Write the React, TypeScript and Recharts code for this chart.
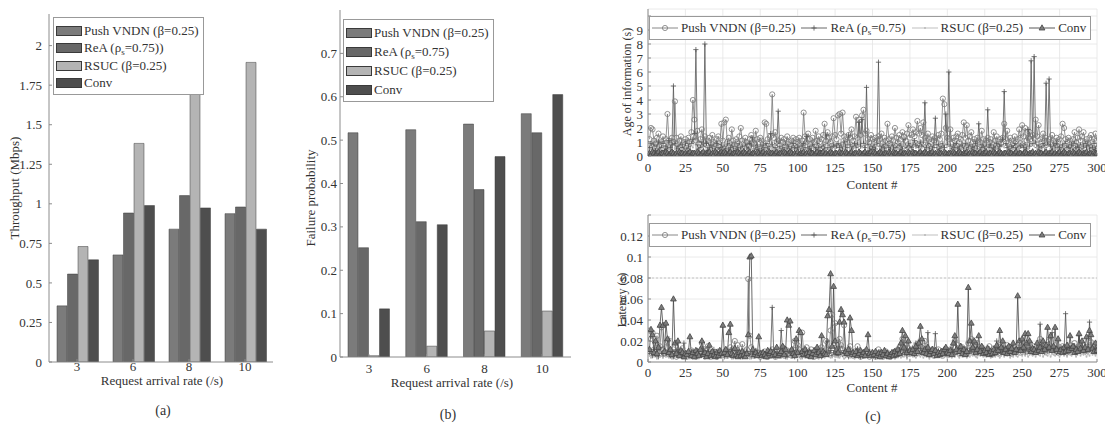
import React from 'react';
import { BarChart, Bar, LineChart, Line, XAxis, YAxis, CartesianGrid, Legend, ReferenceLine } from 'recharts';

const FONT = '"Liberation Serif", "Times New Roman", serif';

// ---------- (a) / (b) data ----------
const rates = ['3', '6', '8', '10'];
const throughputPush = [0.355, 0.677, 0.84, 0.938];
const throughputReA = [0.556, 0.942, 1.052, 0.98];
const throughputRSUC = [0.73, 1.382, 1.7, 1.894];
const throughputConv = [0.646, 0.989, 0.974, 0.84];
const failurePush = [0.517, 0.524, 0.537, 0.561];
const failureReA = [0.252, 0.312, 0.386, 0.517];
const failureRSUC = [0.003, 0.025, 0.06, 0.106];
const failureConv = [0.111, 0.305, 0.462, 0.605];

const throughputTicks = [0, 0.25, 0.5, 0.75, 1, 1.25, 1.5, 1.75, 2];
const failureTicks = [0, 0.1, 0.2, 0.3, 0.4, 0.5, 0.6, 0.7];
const contentTicks = [0, 25, 50, 75, 100, 125, 150, 175, 200, 225, 250, 275, 300];
const aoiTicks = [0, 1, 2, 3, 4, 5, 6, 7, 8, 9, 10];
const latencyTicks = [0, 0.02, 0.04, 0.06, 0.08, 0.1, 0.12, 0.14];

const seriesKeys = ['push', 'rea', 'rsuc', 'conv'];
const nameA = ['Push VNDN (β=0.25)', 'ReA (ρs=0.75))', 'RSUC (β=0.25)', 'Conv'];
const nameB = ['Push VNDN (β=0.25)', 'ReA (ρs=0.75)', 'RSUC (β=0.25)', 'Conv'];
const nameC = ['Push VNDN (β=0.25)', 'ReA (ρs=0.75)', 'RSUC (β=0.25)', 'Conv'];

// ---------- (c) data: age of information (s), contents 1..300 ----------
const aoiPush = [
  1.2,2.0,1.9,1.1,0.9,1.3,1.6,0.8,1.0,1.4,0.9,1.2,3.0,1.1,0.8,1.3,1.0,3.9,1.3,0.9,1.1,1.4,0.8,1.0,1.2,
  0.9,1.3,1.0,1.7,4.0,2.6,1.1,1.8,0.9,1.2,1.9,1.0,1.4,0.8,1.1,1.3,0.9,1.5,1.0,0.8,1.2,1.4,1.0,2.3,1.1,
  2.4,2.6,1.0,1.3,0.9,1.9,1.1,0.8,1.2,1.0,1.4,2.0,1.1,0.9,1.3,1.0,0.8,1.2,1.5,1.0,0.9,1.8,1.2,1.0,1.3,
  1.1,0.9,2.4,2.3,1.2,1.0,1.4,4.4,1.3,1.7,1.0,1.1,0.8,1.3,1.0,1.2,0.9,1.4,1.0,0.8,1.1,1.3,0.9,1.2,1.0,
  1.3,0.9,1.1,3.1,1.4,1.0,1.6,1.2,0.9,1.3,1.0,1.8,1.1,1.4,1.0,1.2,1.5,2.3,1.1,1.7,1.3,1.0,1.4,2.7,1.5,
  1.2,2.9,3.0,1.6,3.1,1.4,1.2,1.0,1.5,1.3,1.9,1.1,1.4,2.8,1.3,2.6,1.5,2.9,3.3,1.6,1.8,1.2,1.0,1.5,1.2,
  1.0,1.3,1.1,1.4,1.2,1.6,1.0,1.3,1.1,2.3,1.2,0.9,1.4,1.1,2.0,1.3,1.0,1.5,1.2,1.7,1.4,1.1,1.6,2.2,1.3,
  1.5,1.9,1.4,1.7,2.5,1.6,2.0,1.5,2.4,1.3,1.1,1.6,1.2,1.0,1.4,1.1,1.3,1.0,1.5,1.2,1.6,4.1,3.7,2.0,1.3,
  1.2,1.9,1.0,1.3,1.1,1.4,1.6,1.0,1.2,1.5,2.4,1.3,2.2,1.1,1.4,1.7,1.0,1.2,0.9,1.3,1.1,1.0,1.8,1.2,0.9,
  1.1,1.3,1.0,1.2,0.9,1.7,1.1,1.4,1.0,1.2,0.9,1.3,2.3,1.2,1.8,1.0,1.3,1.1,0.9,1.4,1.0,1.2,1.9,1.3,2.2,
  1.4,2.0,1.1,1.3,1.7,1.2,1.5,1.3,2.6,1.4,2.2,1.2,1.0,1.6,1.1,1.3,0.9,1.2,1.0,1.5,1.1,0.9,1.3,1.0,1.2,
  1.4,2.3,2.0,1.2,1.0,1.3,1.1,0.9,1.2,1.7,1.0,1.3,1.9,1.1,1.4,1.7,1.0,1.2,0.9,1.3,1.5,1.0,1.2,1.6,1.1,
];
const aoiReA = [
  0.6,0.9,0.5,0.8,0.4,0.7,1.0,0.5,0.6,0.9,0.4,0.7,0.5,1.1,0.6,0.8,5.0,0.9,0.5,0.7,0.4,0.8,0.6,0.5,0.9,
  0.5,0.7,0.4,0.9,1.2,1.6,7.6,0.8,0.5,0.6,1.0,0.7,8.0,0.9,0.4,0.6,0.8,0.5,0.7,0.4,0.9,0.6,0.5,0.8,0.6,
  0.7,0.5,0.9,0.4,0.6,0.8,0.5,0.7,0.4,0.6,0.9,0.5,0.7,0.4,0.8,0.6,0.5,0.9,0.7,1.3,0.5,0.6,0.8,0.4,0.7,
  0.5,0.8,0.6,0.9,0.5,0.7,1.6,0.8,0.5,0.6,0.9,3.2,0.7,0.5,0.6,0.4,0.8,0.5,0.7,0.4,0.6,0.9,0.5,0.7,0.6,
  0.8,0.5,0.7,0.9,0.6,1.4,0.5,0.7,0.4,0.8,0.6,0.5,0.9,0.6,0.4,0.7,0.8,0.5,1.5,0.6,0.9,0.5,0.7,0.8,0.6,
  0.7,0.9,0.6,0.8,0.5,1.0,0.7,0.6,1.5,0.8,0.5,0.7,0.9,0.6,0.8,2.4,0.7,2.6,0.9,0.6,4.9,0.8,0.5,0.7,0.6,
  0.8,0.5,0.9,6.7,0.7,0.6,0.8,0.5,0.7,0.9,0.6,0.5,0.8,0.6,0.7,0.5,0.9,0.6,0.8,0.5,1.2,0.7,0.6,0.9,0.7,
  0.6,0.8,1.1,0.7,0.9,0.6,1.0,0.7,0.8,3.8,0.6,0.9,0.5,0.7,0.6,0.8,2.7,0.6,0.8,0.5,0.7,0.9,0.6,3.0,0.8,
  6.0,0.7,0.5,0.8,0.6,0.9,0.5,0.7,0.6,0.8,0.5,0.9,0.7,0.6,0.8,0.5,0.7,0.6,0.9,0.5,2.3,0.7,0.6,0.8,0.5,
  0.7,3.3,0.6,0.8,0.5,0.7,0.6,0.9,0.5,0.7,0.8,1.2,4.6,0.9,0.6,0.8,0.5,0.7,0.6,0.9,0.5,0.8,0.6,0.7,0.9,
  0.6,0.8,0.5,1.9,0.7,6.8,0.9,7.1,1.0,0.6,0.8,0.5,0.7,0.9,0.6,5.2,0.8,5.5,0.7,0.5,0.8,0.6,0.9,0.5,0.7,
  0.6,0.8,0.5,0.9,0.6,0.7,0.5,0.8,0.6,0.9,0.5,0.7,0.6,0.8,0.5,0.7,0.9,0.6,0.8,0.5,0.7,0.6,0.9,0.5,0.7,
];
const aoiRSUC = [
  0.8,0.5,1.1,0.6,0.9,0.4,0.7,1.2,0.5,0.8,0.6,1.0,0.4,0.7,0.9,0.5,1.3,0.6,0.8,0.4,1.0,0.7,0.5,0.9,0.6,
  0.7,1.0,0.5,0.8,0.6,1.4,0.4,0.9,0.7,0.5,1.1,0.6,0.8,0.4,0.7,1.0,0.5,0.9,0.6,0.8,0.4,0.7,1.2,0.5,0.8,
  0.6,0.9,0.4,0.7,1.0,0.5,0.8,0.6,1.1,0.4,0.7,0.9,0.5,0.8,0.6,1.0,0.4,0.7,0.5,0.9,0.6,1.2,0.5,0.8,0.6,
  0.9,0.5,0.7,1.0,0.4,0.8,0.6,1.1,0.5,0.7,0.9,0.4,0.8,0.6,1.0,0.5,0.7,0.4,0.9,0.6,0.8,0.5,1.0,0.7,0.4,
  0.8,0.6,1.0,0.5,0.7,0.9,0.4,0.8,1.2,0.6,0.5,0.9,0.7,1.0,0.5,0.8,0.6,0.4,1.1,0.7,0.9,0.5,0.8,1.3,0.6,
  1.0,0.7,0.5,1.2,0.8,0.6,1.4,0.7,0.9,0.5,1.1,0.8,0.6,1.0,0.7,0.9,1.5,0.6,0.8,0.5,1.0,0.7,0.9,0.6,0.8,
  0.5,0.9,0.7,1.0,0.6,0.8,0.4,1.1,0.7,0.9,0.5,0.8,0.6,1.2,0.7,0.5,0.9,0.6,1.0,0.8,1.3,0.7,0.9,0.6,1.1,
  0.8,1.2,0.7,1.0,0.9,1.4,0.6,1.1,0.8,0.5,0.9,0.7,1.0,0.6,0.8,0.5,0.9,0.7,0.6,1.0,0.8,0.5,0.9,1.6,0.7,
  0.9,0.6,0.8,0.5,1.0,0.7,0.4,0.9,0.6,1.1,0.8,0.5,0.7,1.0,0.6,0.9,0.5,0.8,0.6,0.4,0.9,0.7,1.0,0.5,0.8,
  0.6,0.9,0.5,1.0,0.7,0.4,0.8,0.6,1.1,0.5,0.9,0.7,0.6,1.0,0.4,0.8,0.6,0.9,0.5,1.0,0.7,0.8,0.6,1.2,0.9,
  1.1,0.7,0.9,0.6,1.3,0.8,1.0,0.7,1.2,0.6,0.9,0.5,0.8,1.0,0.6,0.9,0.7,1.1,0.5,0.8,0.6,1.0,0.7,0.5,0.9,
  0.7,1.0,0.6,0.8,0.5,0.9,0.7,1.1,0.6,0.8,1.0,0.5,0.9,0.7,0.6,1.0,0.8,1.2,0.6,0.9,0.7,1.1,0.8,1.0,0.6,
];
const aoiConv = [
  0.2,0.1,0.3,0.2,0.1,0.2,0.3,0.1,0.2,0.2,0.1,0.3,0.2,0.1,0.2,0.3,0.2,0.1,0.2,0.1,0.3,0.2,0.2,0.1,0.2,
  0.1,0.2,0.3,0.1,0.2,0.2,0.1,0.3,0.2,0.1,0.2,0.3,0.1,0.2,0.2,0.3,0.1,0.2,0.1,0.3,0.2,0.1,0.2,0.3,0.2,
  0.3,0.2,0.1,0.2,0.3,0.1,0.2,0.2,0.1,0.3,0.2,0.1,0.2,0.3,0.2,0.1,0.2,0.3,0.1,0.2,0.2,0.1,0.3,0.2,0.1,
  0.2,0.3,0.1,0.2,0.1,0.3,0.2,0.2,0.1,0.2,0.3,0.1,0.2,0.2,0.1,0.3,0.2,0.1,0.2,0.3,0.2,0.1,0.2,0.1,0.3,
  0.1,0.2,0.2,0.3,0.1,0.2,0.1,0.3,0.2,0.2,0.1,0.2,0.3,0.1,0.2,0.2,0.3,0.1,0.2,0.1,0.2,0.3,0.2,0.1,0.2,
  0.2,0.1,0.3,0.2,0.2,0.1,0.3,0.2,0.1,0.2,0.3,0.1,0.2,0.2,0.1,0.3,0.2,0.1,0.2,0.3,0.1,0.2,0.2,0.3,0.1,
  0.3,0.2,0.1,0.2,0.3,0.2,0.1,0.2,0.2,0.1,0.3,0.2,0.1,0.3,0.2,0.2,0.1,0.2,0.3,0.1,0.2,0.2,0.1,0.3,0.2,
  0.1,0.3,0.2,0.2,0.1,0.2,0.3,0.1,0.2,0.3,0.2,0.1,0.2,0.2,0.3,0.1,0.2,0.1,0.3,0.2,0.2,0.1,0.3,0.2,0.1,
  0.2,0.2,0.1,0.3,0.2,0.1,0.2,0.3,0.2,0.1,0.2,0.2,0.3,0.1,0.2,0.1,0.3,0.2,0.2,0.1,0.2,0.3,0.1,0.2,0.2,
  0.3,0.1,0.2,0.2,0.1,0.3,0.2,0.1,0.2,0.3,0.2,0.1,0.2,0.2,0.1,0.3,0.2,0.2,0.1,0.2,0.3,0.1,0.2,0.2,0.1,
  0.2,0.3,0.2,0.1,0.2,0.2,0.3,0.1,0.2,0.1,0.3,0.2,0.2,0.1,0.2,0.3,0.1,0.2,0.2,0.3,0.1,0.2,0.1,0.2,0.3,
  0.1,0.2,0.3,0.2,0.1,0.2,0.2,0.1,0.3,0.2,0.1,0.2,0.3,0.2,0.1,0.2,0.2,0.3,0.1,0.2,0.2,0.1,0.3,0.2,0.2,
];

// ---------- (c) data: latency in milliseconds, contents 1..300 ----------
const latPushMs = [
  30,22,28,12,18,25,10,15,33,12,8,14,20,7,10,6,12,9,5,11,7,9,13,6,8,
  5,9,7,11,6,8,5,10,7,9,18,8,12,6,15,7,5,9,6,8,5,10,7,6,9,
  7,11,6,9,14,7,10,20,8,16,6,9,17,7,10,12,79,25,14,8,6,10,7,9,5,
  8,6,10,7,5,9,6,12,8,5,10,7,6,9,14,6,8,11,7,10,6,12,20,9,16,
  12,8,28,10,7,14,6,9,12,7,5,9,6,11,8,14,7,10,20,9,12,30,45,18,37,
  14,10,22,16,12,35,9,11,7,15,9,6,10,8,15,7,5,9,6,8,10,7,5,9,6,
  8,5,7,12,6,9,5,7,10,6,8,5,7,9,6,11,8,14,10,22,12,16,9,13,8,
  11,8,14,10,17,12,20,9,13,20,8,11,7,9,12,6,10,8,12,7,9,6,11,8,10,
  7,12,9,14,20,10,16,8,11,14,9,12,8,18,11,22,10,15,8,18,12,9,14,10,8,
  12,9,15,10,7,13,9,12,8,14,10,16,9,12,16,10,14,8,12,10,15,11,14,9,18,
  12,16,10,14,18,11,9,15,12,10,14,22,11,15,13,10,16,20,12,14,10,16,12,9,14,
  11,15,10,13,9,12,16,11,14,18,10,13,15,11,17,12,10,14,11,16,19,12,15,10,13,
];
const latReAMs = [
  8,10,6,12,7,9,5,14,8,6,11,7,9,22,6,8,5,10,7,12,6,9,5,18,7,
  6,8,5,10,7,9,6,11,5,8,7,13,6,9,10,5,8,6,12,7,5,9,6,8,7,
  5,8,6,10,7,12,5,9,6,8,11,7,5,9,6,10,7,8,5,9,6,11,8,6,7,
  9,6,8,5,10,7,12,52,9,5,8,6,7,30,10,8,5,6,7,9,6,11,5,8,7,
  6,9,5,8,7,10,6,11,8,5,9,7,12,6,8,5,10,7,9,20,8,11,6,9,7,
  8,6,15,9,7,11,6,8,5,10,7,9,6,8,12,7,5,9,6,11,8,7,10,6,9,
  7,5,9,6,10,8,6,11,7,9,5,8,6,10,7,9,6,12,8,7,11,9,6,10,8,
  9,12,7,18,10,8,13,9,11,8,10,28,7,9,12,8,27,9,11,7,10,8,12,9,11,
  10,8,12,9,7,11,9,13,8,10,7,12,9,8,11,10,14,9,12,17,10,8,13,9,11,
  8,12,9,11,7,10,13,20,9,12,8,11,10,14,9,12,8,13,10,11,9,12,14,10,12,
  11,9,13,10,14,12,9,11,10,13,10,36,15,11,9,13,11,12,12,28,14,11,9,13,12,
  10,13,11,46,12,14,10,13,11,15,9,12,25,10,14,11,13,12,10,38,14,12,11,13,10,
];
const latRSUCMs = [
  6,4,8,5,7,3,9,5,6,4,7,5,8,4,6,3,7,5,9,4,6,5,8,3,7,
  5,7,4,6,3,8,5,7,4,9,5,6,3,7,5,8,4,6,5,7,3,6,8,4,5,
  7,4,6,5,8,3,6,9,4,7,5,3,6,8,4,5,7,3,6,4,8,5,7,4,6,
  4,6,8,3,5,7,4,6,9,5,3,7,6,4,8,5,6,3,7,5,4,8,6,5,7,
  6,3,7,5,4,8,6,5,7,4,9,5,6,3,7,5,8,4,6,7,5,4,8,6,5,
  5,8,4,6,7,3,5,8,6,4,7,5,3,6,8,4,7,5,6,4,9,5,7,4,6,
  4,6,5,8,3,7,5,4,6,8,5,7,4,6,3,7,5,8,4,6,5,7,3,6,8,
  7,5,9,4,6,8,5,7,4,6,5,8,3,7,6,4,8,5,6,7,4,6,5,8,4,
  6,8,4,7,5,9,6,4,8,5,7,6,4,9,5,7,6,8,5,4,7,6,8,5,6,
  5,7,6,4,8,6,5,9,7,4,6,8,5,7,6,9,4,7,5,8,6,5,7,9,6,
  8,6,9,5,7,10,6,8,5,9,7,6,10,5,8,7,6,9,5,8,7,6,9,7,5,
  7,9,6,8,5,10,7,6,9,8,5,7,10,6,8,7,9,5,8,6,10,7,8,6,9,
];
const latConvMs = [
  12,31,26,9,20,8,14,35,52,35,10,37,22,9,12,7,60,18,8,20,6,11,9,5,8,
  7,10,24,6,9,5,11,8,6,12,20,7,9,5,8,16,6,10,7,5,9,6,11,8,35,
  9,12,7,28,36,8,6,13,7,5,9,6,10,7,5,8,26,100,101,12,7,9,6,24,8,
  6,9,7,5,11,8,10,6,9,7,14,6,8,10,15,7,12,40,35,39,12,8,6,22,9,
  30,28,10,7,12,8,6,9,5,8,11,7,14,9,6,25,10,8,7,44,50,84,15,72,20,
  12,9,38,50,45,38,10,8,12,42,30,9,7,10,6,8,11,7,9,6,12,26,8,6,9,
  7,10,6,8,5,9,7,11,6,8,5,7,9,6,10,7,12,8,18,30,14,25,9,20,11,
  9,12,8,15,10,18,34,22,9,12,8,14,7,10,12,8,11,6,9,7,10,8,12,14,9,
  8,11,7,18,25,12,55,10,15,8,12,7,10,71,20,37,14,20,9,12,25,10,15,8,11,
  9,13,7,10,8,12,9,16,11,30,14,20,9,12,8,15,10,13,18,9,12,63,20,11,22,
  14,27,18,27,20,10,13,12,9,18,11,14,10,20,12,16,33,14,25,11,15,33,12,22,10,
  12,9,14,10,16,11,25,13,15,9,12,10,27,13,20,11,14,24,12,30,26,13,10,18,11,
];

const C: any = { push: '#7b7b7b', rea: '#686868', rsuc: '#b4b4b4', conv: '#4e4e4e' };
const LC: any = { push: '#7a7a7a', rea: '#575757', rsuc: '#b8b8b8', conv: '#454545' };
const AX = '#8c8c8c';
const TXT = '#333';

const throughputRows = rates.map((rate, i) => ({
  rate, push: throughputPush[i], rea: throughputReA[i], rsuc: throughputRSUC[i], conv: throughputConv[i],
}));
const failureRows = rates.map((rate, i) => ({
  rate, push: failurePush[i], rea: failureReA[i], rsuc: failureRSUC[i], conv: failureConv[i],
}));
const contentIds = aoiPush.map((_, i) => i + 1);
const aoiRows = contentIds.map((x, i) => ({ x, push: aoiPush[i], rea: aoiReA[i], rsuc: aoiRSUC[i], conv: aoiConv[i] }));
const latencyRows = contentIds.map((x, i) => ({
  x, push: latPushMs[i] / 1000, rea: latReAMs[i] / 1000, rsuc: latRSUCMs[i] / 1000, conv: latConvMs[i] / 1000,
}));

const tickFont = { fontSize: 13, fill: TXT, fontFamily: FONT };

function RichName({ name }: { name: string }) {
  if (name.includes('ρs')) {
    const [a, b] = name.split('ρs');
    return (
      <span>
        {a}ρ<sub style={{ fontSize: 9, verticalAlign: -3, lineHeight: 0 }}>s</sub>{b}
      </span>
    );
  }
  return <span>{name}</span>;
}

function BarLegendBox({ names, rowH, padTop, width }: any) {
  return (
    <div style={{ width, border: '1px solid #999', background: '#fff', paddingTop: padTop, paddingBottom: 2, boxSizing: 'border-box', fontFamily: FONT, fontSize: 13, color: TXT, lineHeight: '14px' }}>
      {seriesKeys.map((k, i) => (
        <div key={k} style={{ display: 'flex', alignItems: 'center', height: rowH, paddingLeft: 2 }}>
          <span style={{ display: 'inline-block', width: 26, height: 10, background: C[k], border: '1px solid #3a3a3a', boxSizing: 'border-box', marginRight: 2 }} />
          <RichName name={names[i]} />
        </div>
      ))}
    </div>
  );
}

const Circ = ({ cx, cy }: any) => <circle cx={cx} cy={cy} r={2.6} fill="none" stroke={LC.push} strokeWidth={0.8} />;
const Plus = ({ cx, cy }: any) => <path d={`M${cx - 2.6},${cy}H${cx + 2.6}M${cx},${cy - 2.6}V${cy + 2.6}`} stroke={LC.rea} strokeWidth={0.8} fill="none" />;
const Pt = ({ cx, cy }: any) => <circle cx={cx} cy={cy} r={1} fill={LC.rsuc} />;
const Tri = ({ cx, cy }: any) => <path d={`M${cx},${cy - 3.2}L${cx + 2.9},${cy + 2}L${cx - 2.9},${cy + 2}Z`} fill="#7d7d7d" stroke={LC.conv} strokeWidth={0.8} />;

const markerOf: any = { push: Circ, rea: Plus, rsuc: Pt, conv: Tri };

const mkDot = (key: string) => (p: any) => {
  const M = markerOf[key];
  if (p.cx == null || p.cy == null) return <g key={`${key}${p.index}`} />;
  return <M key={`${key}${p.index}`} cx={p.cx} cy={p.cy} />;
};

function LineLegendBox() {
  return (
    <div style={{ width: 442, height: 24, border: '1px solid #999', background: '#fff', boxSizing: 'border-box', display: 'flex', alignItems: 'center', paddingLeft: 2, gap: 6, fontFamily: FONT, fontSize: 13, color: TXT, whiteSpace: 'nowrap', lineHeight: '14px' }}>
      {seriesKeys.map((k, i) => {
        const M = markerOf[k];
        return (
          <div key={k} style={{ display: 'flex', alignItems: 'center' }}>
            <svg width={26} height={10} style={{ marginRight: 3 }}>
              <line x1={0} y1={5} x2={26} y2={5} stroke={LC[k]} strokeWidth={0.9} />
              <M cx={13} cy={5} />
            </svg>
            <RichName name={nameC[i]} />
          </div>
        );
      })}
    </div>
  );
}

function Title({ x, y, text, rotate, size }: { x: number; y: number; text: string; rotate?: boolean; size?: number }) {
  return (
    <div style={{ position: 'absolute', left: x, top: y, transform: `translate(-50%, -50%)${rotate ? ' rotate(-90deg)' : ''}`, whiteSpace: 'nowrap', fontFamily: FONT, fontSize: size || 13, color: TXT, lineHeight: '15px' }}>
      {text}
    </div>
  );
}

function BarPanel({ rows, names, domain, ticks, left, width, margin, xTickMargin, yTickMargin, legendPos, rowH, padTop }: any) {
  return (
    <div style={{ position: 'absolute', left, top: 0 }}>
      <BarChart width={width} height={400} data={rows} margin={margin} barCategoryGap={8} barGap={0.5}>
        <XAxis dataKey="rate" type="category" height={30} tickSize={-3} tickMargin={xTickMargin} tick={tickFont} axisLine={{ stroke: AX }} tickLine={{ stroke: AX }} interval={0} />
        <XAxis xAxisId="top" dataKey="rate" type="category" orientation="top" height={0} tickSize={-3} tick={false} axisLine={{ stroke: AX }} tickLine={{ stroke: AX }} />
        <YAxis type="number" domain={domain} ticks={ticks} width={40} tickSize={-3} tickMargin={yTickMargin} tick={tickFont} axisLine={{ stroke: AX }} tickLine={{ stroke: AX }} interval={0} allowDataOverflow />
        <YAxis yAxisId="right" orientation="right" type="number" domain={domain} ticks={ticks} width={0} tickSize={-3} tick={false} axisLine={{ stroke: AX }} tickLine={{ stroke: AX }} allowDataOverflow />
        <Legend layout="horizontal" verticalAlign="middle" align="center" wrapperStyle={{ left: legendPos.left, top: legendPos.top, width: legendPos.width }}
          content={() => <BarLegendBox names={names} rowH={rowH} padTop={padTop} width={legendPos.width} />} />
        <Bar dataKey="push" name={names[0]} fill={C.push} stroke="#3c3c3c" strokeWidth={0.5} isAnimationActive={false} />
        <Bar dataKey="rea" name={names[1]} fill={C.rea} stroke="#3c3c3c" strokeWidth={0.5} isAnimationActive={false} />
        <Bar dataKey="rsuc" name={names[2]} fill={C.rsuc} stroke="#3c3c3c" strokeWidth={0.5} isAnimationActive={false} />
        <Bar dataKey="conv" name={names[3]} fill={C.conv} stroke="#3c3c3c" strokeWidth={0.5} isAnimationActive={false} />
      </BarChart>
    </div>
  );
}

function LinePanel({ rows, top, height, margin, domain, ticks, hideTop, xTickMargin, legendTop, refY }: any) {
  return (
    <div style={{ position: 'absolute', left: 590, top }}>
      <LineChart width={515} height={height} data={rows} margin={margin}>
        <CartesianGrid stroke="#e4e4e4" strokeWidth={0.8} />
        {refY != null && <ReferenceLine y={refY} stroke="#c4c4c4" strokeDasharray="2 2" />}
        <XAxis dataKey="x" type="number" domain={[0, 300]} ticks={contentTicks} height={30} tickSize={-3} tickMargin={xTickMargin} tick={tickFont} axisLine={{ stroke: AX }} tickLine={{ stroke: AX }} interval={0} allowDataOverflow />
        <XAxis xAxisId="top" dataKey="x" type="number" orientation="top" domain={[0, 300]} ticks={contentTicks} height={0} tickSize={-3} tick={false} axisLine={{ stroke: AX }} tickLine={{ stroke: AX }} allowDataOverflow />
        <YAxis type="number" domain={domain} ticks={ticks} width={30} tickSize={-3} tickMargin={8} tick={tickFont} axisLine={{ stroke: AX }} tickLine={{ stroke: AX }} interval={0} allowDataOverflow
          tickFormatter={(v: number) => (v === hideTop ? '' : String(v))} />
        <YAxis yAxisId="right" orientation="right" type="number" domain={domain} ticks={ticks} width={0} tickSize={-3} tick={false} axisLine={{ stroke: AX }} tickLine={{ stroke: AX }} allowDataOverflow />
        <Legend layout="horizontal" verticalAlign="middle" align="center" wrapperStyle={{ left: 59, top: legendTop, width: 442 }}
          content={() => <LineLegendBox />} />
        <Line dataKey="push" name={nameC[0]} stroke={LC.push} strokeWidth={0.8} dot={mkDot('push')} isAnimationActive={false} />
        <Line dataKey="rea" name={nameC[1]} stroke={LC.rea} strokeWidth={0.8} dot={mkDot('rea')} isAnimationActive={false} />
        <Line dataKey="rsuc" name={nameC[2]} stroke={LC.rsuc} strokeWidth={0.8} dot={mkDot('rsuc')} isAnimationActive={false} />
        <Line dataKey="conv" name={nameC[3]} stroke={LC.conv} strokeWidth={0.8} dot={mkDot('conv')} isAnimationActive={false} />
      </LineChart>
    </div>
  );
}

export default function App() {
  return (
    <div style={{ position: 'absolute', left: 0, top: 0, width: 1105, height: 425, background: '#fff', overflow: 'hidden', fontFamily: FONT }}>
      <BarPanel rows={throughputRows} names={nameA} domain={[0, 2.2]} ticks={throughputTicks} left={0} width={290}
        margin={{ top: 14, right: 17, bottom: 8, left: 9 }} xTickMargin={3} yTickMargin={10}
        legendPos={{ left: 53, top: 17, width: 151 }} rowH={17.5} padTop={4} />
      <BarPanel rows={failureRows} names={nameB} domain={[0, 0.8]} ticks={failureTicks} left={290} width={300}
        margin={{ top: 10, right: 19, bottom: 13, left: 10 }} xTickMargin={10} yTickMargin={6}
        legendPos={{ left: 53, top: 19, width: 151 }} rowH={19} padTop={3} />
      <LinePanel rows={aoiRows} top={0} height={200} margin={{ top: 9, right: 8, bottom: 14, left: 28 }}
        domain={[0, 10.5]} ticks={aoiTicks} hideTop={10} xTickMargin={10} legendTop={16} />
      <LinePanel rows={latencyRows} top={200} height={225} margin={{ top: 15, right: 8, bottom: 33, left: 28 }}
        domain={[0, 0.14]} ticks={latencyTicks} hideTop={0.14} xTickMargin={9} legendTop={23} refY={0.08} />

      <Title x={14} y={188} text="Throughput (Mbps)" rotate />
      <Title x={162} y={380} text="Request arrival rate (/s)" />
      <Title x={310} y={198} text="Failure probability" rotate />
      <Title x={452} y={382} text="Request arrival rate (/s)" />
      <Title x={627} y={82} text="Age of information (s)" rotate size={12} />
      <Title x={872} y={184} text="Content #" />
      <Title x={622} y={300} text="Latency (s)" rotate size={12} />
      <Title x={872} y={387} text="Content #" />
      <Title x={163} y={410} text="(a)" size={14} />
      <Title x={448} y={414} text="(b)" size={14} />
      <Title x={873} y={416} text="(c)" size={14} />
    </div>
  );
}
